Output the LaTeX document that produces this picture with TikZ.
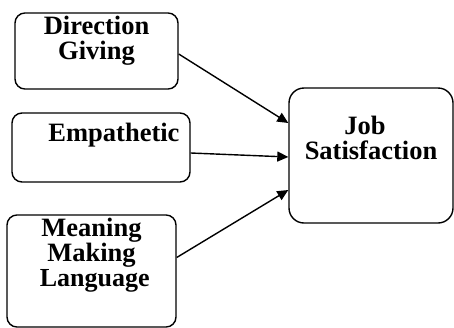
\documentclass[tikz,border=0pt]{standalone}
\usepackage{fontspec}
\setmainfont{Liberation Serif}
\usetikzlibrary{arrows.meta,positioning,shapes}

\begin{document}
\begin{tikzpicture}
[ x=1pt, y=-1pt,
		factor/.style={rectangle,rounded corners=10pt,draw,line width=1.4pt,align=center,font=\bfseries\fontsize{26.5}{25}\selectfont},
		outcome/.style={factor,rounded corners=15pt},
		arrowIn/.style={-{Triangle[length=11pt,width=10pt]},line width=1.4pt}]

	\useasboundingbox (0,0) rectangle (454,327);

	\node[factor,minimum width=163pt,minimum height=72pt] (direction giving) at (96.5,51) {Direction\\Giving\\[1pt]};
	\node[factor,minimum width=178pt,minimum height=69pt] (empathetic) at (101,147.5) {\hspace*{26pt}Empathetic\\[6pt]};
	\node[factor,minimum width=169pt,minimum height=108pt] (meaning making) at (91.5,271) {Meaning\\Making\\\fontsize{26}{26}\selectfont\ Language\\[12pt]};
	\node[outcome,minimum width=164pt,minimum height=135pt] (job satisfaction) at (371,155.5) {\hspace*{-12pt}Job\\Satisfaction\\[10pt]};

	\draw[arrowIn] ([yshift=-3pt]direction giving.east) -- ([yshift=32.5pt]job satisfaction.west);
	\draw[arrowIn] ([yshift=-5.5pt]empathetic.east) -- ([yshift=-1.5pt]job satisfaction.west);
	\draw[arrowIn] ([yshift=13.5pt]meaning making.east) -- ([yshift=-34.5pt]job satisfaction.west);
\end{tikzpicture}
\end{document}
